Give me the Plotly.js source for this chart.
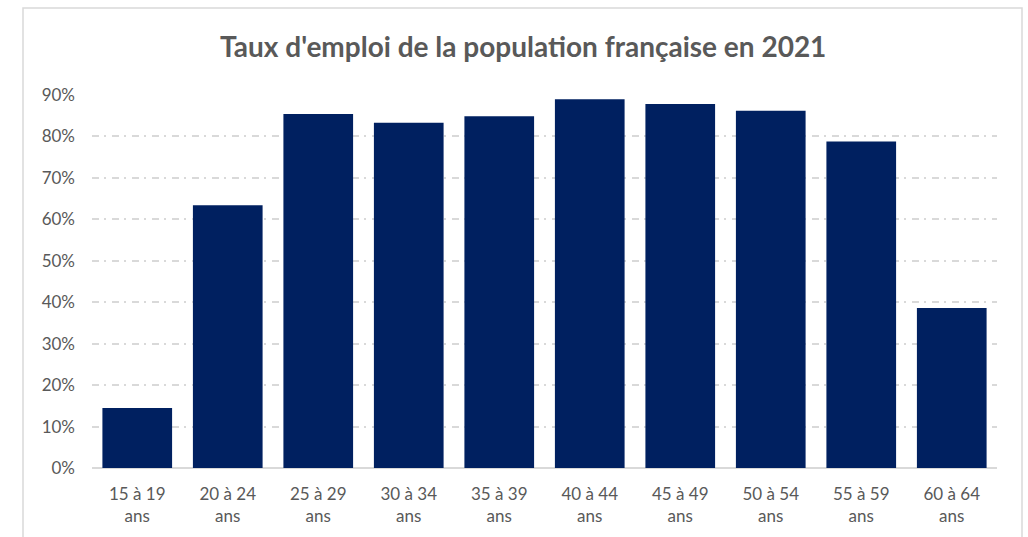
<!DOCTYPE html>
<html>
<head>
<meta charset="utf-8">
<script src="https://cdn.plot.ly/plotly-3.0.1.min.js"></script>
<style>
  html, body { margin: 0; padding: 0; background: #ffffff; }
  #chart { width: 1028px; height: 537px; }
</style>
</head>
<body>
<div id="chart"></div>
<script>
// Data
const categories = [
  "15 à 19<br>ans", "20 à 24<br>ans", "25 à 29<br>ans", "30 à 34<br>ans", "35 à 39<br>ans",
  "40 à 44<br>ans", "45 à 49<br>ans", "50 à 54<br>ans", "55 à 59<br>ans", "60 à 64<br>ans"
];
const employmentRate = [0.145, 0.634, 0.854, 0.833, 0.849, 0.890, 0.878, 0.862, 0.788, 0.386];
const yTickValues = [0, 0.1, 0.2, 0.3, 0.4, 0.5, 0.6, 0.7, 0.8, 0.9];
const chartTitle = "Taux d'emploi de la population française en 2021";

const textColor = "#595959";
const gridColor = "#d9d9d9";
const barColor = "#002060";
const fontFamily = "Lato, 'Open Sans', sans-serif";

const trace = {
  type: "bar",
  x: categories,
  y: employmentRate,
  marker: { color: barColor, line: { width: 0 } },
  hoverinfo: "x+y"
};

const layout = {
  width: 1028,
  height: 537,
  margin: { l: 92, r: 31, t: 95, b: 69, pad: 0 },
  paper_bgcolor: "#ffffff",
  plot_bgcolor: "#ffffff",
  bargap: 0.23,
  showlegend: false,
  font: { family: fontFamily, color: textColor, size: 17 },
  title: {
    text: "<b>" + chartTitle + "</b>",
    font: { family: fontFamily, size: 28, color: textColor },
    xref: "container",
    x: 0.509,
    xanchor: "center",
    yref: "container",
    y: 1 - 47 / 537,
    yanchor: "middle"
  },
  xaxis: {
    type: "category",
    showgrid: false,
    showline: false,
    zeroline: false,
    ticks: "",
    tickfont: { family: fontFamily, size: 17, color: textColor },
    ticklabelstandoff: 14,
    fixedrange: true
  },
  yaxis: {
    range: [0, 0.9],
    tickvals: yTickValues,
    tickformat: ".0%",
    showgrid: true,
    gridcolor: gridColor,
    gridwidth: 1.5,
    griddash: "7px,5px,2px,6px",
    zeroline: true,
    zerolinecolor: gridColor,
    zerolinewidth: 1.5,
    showline: false,
    ticks: "",
    tickfont: { family: fontFamily, size: 17, color: textColor },
    ticklabelstandoff: 16,
    fixedrange: true
  },
  shapes: [
    {
      type: "rect",
      xref: "paper", yref: "paper",
      x0: (23 - 92) / 905, x1: (1022 - 92) / 905,
      y0: -0.3, y1: (468 - 8) / 373,
      line: { color: gridColor, width: 1.5 },
      fillcolor: "rgba(0,0,0,0)",
      layer: "below"
    }
  ]
};

Plotly.newPlot("chart", [trace], layout, { displayModeBar: false, responsive: false, staticPlot: false });
</script>
</body>
</html>
